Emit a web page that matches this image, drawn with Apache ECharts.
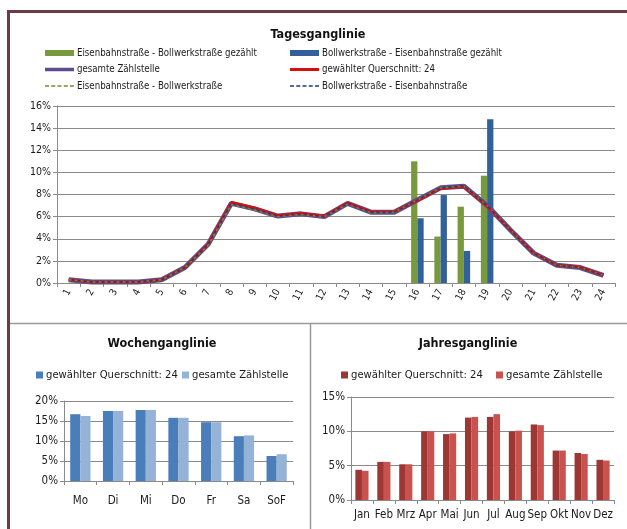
<!DOCTYPE html>
<html><head><meta charset="utf-8">
<script src="https://cdn.jsdelivr.net/npm/echarts@6/dist/echarts.min.js"></script>
<style>html,body{margin:0;padding:0;background:#fff}#c{width:627px;height:529px}</style>
</head><body><div id="c"></div>
<script>
// ---- data ----
const hours = ['1','2','3','4','5','6','7','8','9','10','11','12','13','14','15','16','17','18','19','20','21','22','23','24'];
const eisenBollCounted = [null,null,null,null,null,null,null,null,null,null,null,null,null,null,null,11.0,4.2,6.9,9.7,null,null,null,null,null];
const bollEisenCounted = [null,null,null,null,null,null,null,null,null,null,null,null,null,null,null,5.85,7.95,2.9,14.8,null,null,null,null,null];
const dayTotal    = [0.3,0.1,0.1,0.1,0.3,1.4,3.5,7.2,6.7,6.05,6.25,6.0,7.2,6.4,6.4,7.5,8.6,8.75,7.0,4.8,2.7,1.6,1.4,0.7];
const daySelected = [0.3,0.1,0.1,0.1,0.3,1.4,3.5,7.3,6.8,6.1,6.3,6.05,7.25,6.45,6.45,7.45,8.55,8.7,6.95,4.8,2.7,1.6,1.45,0.7];
const dayEisenBoll = [0.3,0.1,0.1,0.1,0.3,1.4,3.4,7.1,6.6,6.0,6.2,6.0,7.15,6.35,6.4,7.5,8.6,8.75,7.0,4.8,2.7,1.6,1.4,0.7];
const dayBollEisen = [0.3,0.1,0.1,0.1,0.3,1.4,3.5,7.2,6.7,6.05,6.25,6.0,7.2,6.4,6.4,7.5,8.6,8.8,7.0,4.8,2.7,1.6,1.4,0.7];

const weekdays = ['Mo','Di','Mi','Do','Fr','Sa','SoF'];
const weekSelected = [16.7,17.5,17.75,15.8,14.7,11.2,6.25];
const weekTotal    = [16.25,17.5,17.75,15.8,14.7,11.4,6.7];

const months = ['Jan','Feb','Mrz','Apr','Mai','Jun','Jul','Aug','Sep','Okt','Nov','Dez'];
const monthSelected = [4.4,5.55,5.2,10.0,9.6,12.0,12.1,10.0,11.0,7.2,6.85,5.85];
const monthTotal    = [4.25,5.55,5.2,10.0,9.7,12.1,12.5,10.1,10.9,7.2,6.7,5.75];

const names = {
  dG:'Eisenbahnstraße - Bollwerkstraße gezählt',
  dB:'Bollwerkstraße - Eisenbahnstraße gezählt',
  dAll:'gesamte Zählstelle',
  dSel:'gewählter Querschnitt: 24',
  dEB:'Eisenbahnstraße - Bollwerkstraße',
  dBE:'Bollwerkstraße - Eisenbahnstraße',
  wSel:'gewählter Querschnitt: 24',
  wAll:'gesamte Zählstelle',
  mSel:'gewählter Querschnitt: 24',
  mAll:'gesamte Zählstelle'
};

const FF = "'Liberation Sans Narrow','DejaVu Sans Condensed','Liberation Sans',sans-serif";
const C = {green:'#79993d', blue:'#32609a', purple:'#5e4c8e', red:'#d40f0f', gDash:'#6f8f2a', bDash:'#1f3f75',
  wDark:'#4a7ebb', wLight:'#95b3d7', mDark:'#9c3734', mLight:'#c9514e', grid:'#8a8a8a', axis:'#8a8a8a', text:'#1a1a1a'};
const DASH = 'path://M0,0h4v1h-4zM6.25,0h4v1h-4zM12.5,0h4v1h-4zM18.75,0h4v1h-4zM25,0h4v1h-4z';

function yAx(gi, max, interval, fs){
  return {gridIndex:gi, type:'value', min:0, max:max, interval:interval,
    axisLine:{show:true, lineStyle:{color:C.axis}}, axisTick:{show:true, length:4, lineStyle:{color:C.axis}},
    splitLine:{lineStyle:{color:C.grid, width:1}},
    axisLabel:{formatter:'{value}%', color:C.text, fontFamily:FF, fontSize:fs, margin:6}};
}
function xAx(gi, cats, extraLabel){
  return {gridIndex:gi, type:'category', data:cats, boundaryGap:true,
    axisLine:{lineStyle:{color:C.axis}}, axisTick:{show:true, length:4, alignWithLabel:false, lineStyle:{color:C.axis}},
    axisLabel:Object.assign({color:C.text, fontFamily:FF, interval:0}, extraLabel)};
}
function leg(name, left, top, fs, w, h, icon){
  return {data:[{name:name, icon:icon}], left:left, top:top, orient:'horizontal', padding:0, itemWidth:w, itemHeight:h,
    symbolKeepAspect:false, selectedMode:false, formatter:n=>names[n],
    textStyle:{fontFamily:FF, fontSize:fs, color:C.text, padding:[0,0,0,-2], lineHeight:12}};
}

const option = {
  animation:false,
  backgroundColor:'#fff',
  textStyle:{fontFamily:FF},
  grid:[
    {left:57, top:106, width:558, height:177},
    {left:64, top:401, width:229, height:80},
    {left:351, top:397, width:263, height:103}
  ],
  xAxis:[
    xAx(0, hours, {fontSize:10, rotate:62, margin:7}),
    xAx(1, weekdays, {fontSize:11.5, margin:14}),
    xAx(2, months, {fontSize:11.5, margin:9})
  ],
  yAxis:[ yAx(0,16,2,10.5), yAx(1,20,5,11.5), yAx(2,15,5,11.5) ],
  legend:[
    leg('dG',45,47,9.6,29,6,'rect'), leg('dAll',45,63.5,9.6,29,3.5,'rect'), leg('dEB',45,80,9.6,29,1.3,DASH),
    leg('dB',290,47,9.6,29,6,'rect'), leg('dSel',290,63.5,9.6,29,3,'rect'), leg('dBE',290,80,9.6,29,1.3,DASH),
    leg('wSel',36,369,11.2,7,7,'rect'), leg('wAll',182,369,11.2,7,7,'rect'),
    leg('mSel',341,369,11.2,7,7,'rect'), leg('mAll',496,369,11.2,7,7,'rect')
  ],
  series:[
    {name:'dG', type:'bar', xAxisIndex:0, yAxisIndex:0, data:eisenBollCounted, itemStyle:{color:C.green}, barGap:'0%', barCategoryGap:'46%'},
    {name:'dB', type:'bar', xAxisIndex:0, yAxisIndex:0, data:bollEisenCounted, itemStyle:{color:C.blue}, barGap:'0%', barCategoryGap:'46%'},
    {name:'dAll', type:'line', xAxisIndex:0, yAxisIndex:0, data:dayTotal, symbol:'none', z:3, lineStyle:{color:C.purple, width:5}, itemStyle:{color:C.purple}},
    {name:'dSel', type:'line', xAxisIndex:0, yAxisIndex:0, data:daySelected, symbol:'none', z:4, lineStyle:{color:C.red, width:2.5}, itemStyle:{color:C.red}},
    {name:'dEB', type:'line', xAxisIndex:0, yAxisIndex:0, data:dayEisenBoll, symbol:'none', z:5, lineStyle:{color:C.gDash, width:1.5, type:[3,3]}, itemStyle:{color:C.gDash}},
    {name:'dBE', type:'line', xAxisIndex:0, yAxisIndex:0, data:dayBollEisen, symbol:'none', z:5, lineStyle:{color:C.bDash, width:1.2, type:[3,3], dashOffset:3}, itemStyle:{color:C.bDash}},
    {name:'wSel', type:'bar', xAxisIndex:1, yAxisIndex:1, data:weekSelected, itemStyle:{color:C.wDark}, barGap:'0%', barCategoryGap:'38%'},
    {name:'wAll', type:'bar', xAxisIndex:1, yAxisIndex:1, data:weekTotal, itemStyle:{color:C.wLight}, barGap:'0%', barCategoryGap:'38%'},
    {name:'mSel', type:'bar', xAxisIndex:2, yAxisIndex:2, data:monthSelected, itemStyle:{color:C.mDark}, barGap:'0%', barCategoryGap:'40%'},
    {name:'mAll', type:'bar', xAxisIndex:2, yAxisIndex:2, data:monthTotal, itemStyle:{color:C.mLight}, barGap:'0%', barCategoryGap:'40%'}
  ],
  graphic:[
    {type:'line', shape:{x1:8.5, y1:11.5, x2:627, y2:11.5}, style:{stroke:'#6e3a45', lineWidth:3}, silent:true},
    {type:'line', shape:{x1:8.5, y1:10, x2:8.5, y2:529}, style:{stroke:'#6e3a45', lineWidth:3}, silent:true},
    {type:'line', shape:{x1:10, y1:323.5, x2:627, y2:323.5}, style:{stroke:'#9a9a9a', lineWidth:1.5}, silent:true},
    {type:'line', shape:{x1:310.5, y1:323.5, x2:310.5, y2:529}, style:{stroke:'#9a9a9a', lineWidth:1.5}, silent:true},
    {type:'text', x:318, y:35, style:{text:'Tagesganglinie', font:"bold 12.5px "+FF, fill:'#111', align:'center', verticalAlign:'middle'}},
    {type:'text', x:162, y:344, style:{text:'Wochenganglinie', font:"bold 12.5px "+FF, fill:'#111', align:'center', verticalAlign:'middle'}},
    {type:'text', x:468, y:344, style:{text:'Jahresganglinie', font:"bold 12.5px "+FF, fill:'#111', align:'center', verticalAlign:'middle'}}
  ]
};
const chart = echarts.init(document.getElementById('c'), null, {renderer:'canvas'});
chart.setOption(option);
</script></body></html>
